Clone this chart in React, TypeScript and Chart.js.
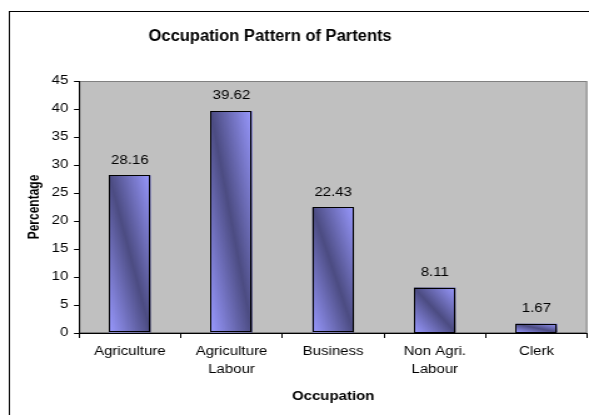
import React, { useEffect, useRef } from 'react';
import { Chart, registerables } from 'chart.js';

Chart.register(...registerables);

// ---- data ----
const categories: string[][] = [
  ['Agriculture'],
  ['Agriculture', 'Labour'],
  ['Business'],
  ['Non Agri.', 'Labour'],
  ['Clerk'],
];
const percentages: number[] = [28.16, 39.62, 22.43, 8.11, 1.67];
const yMin = 0;
const yMax = 45;
const yStep = 5;
const chartTitle = 'Occupation Pattern of Partents';
const xTitle = 'Occupation';
const yTitle = 'Percentage';

// ---- styling ----
const PAGE_W = 589;
const PAGE_H = 415;
const STRETCH = 1.25;
const CANVAS_W = Math.round(PAGE_W / STRETCH);
const FONT = '"Liberation Sans", Arial, Helvetica, sans-serif';
const LIGHT = '#9999ff';
const DARK = '#4c4c82';
const TICK_SIZE = 12;

const plotBg = {
  id: 'plotBg',
  beforeDraw(chart: any) {
    const { ctx, chartArea: a } = chart;
    ctx.save();
    ctx.fillStyle = '#c0c0c0';
    ctx.fillRect(a.left, a.top, a.right - a.left, a.bottom - a.top);
    ctx.strokeStyle = '#808080';
    ctx.lineWidth = 1;
    ctx.strokeRect(a.left + 0.5, a.top + 0.5, a.right - a.left - 1, a.bottom - a.top - 1);
    // outer chart border (right and bottom edges fall outside the picture)
    ctx.strokeStyle = '#000';
    ctx.lineWidth = 1;
    ctx.strokeRect(7.5, 11.5, chart.width + 20, chart.height + 20);
    // chart title, fitted to the reference's width
    ctx.fillStyle = '#000';
    ctx.font = `bold 16px ${FONT}`;
    ctx.textAlign = 'center';
    ctx.textBaseline = 'middle';
    const natural = ctx.measureText(chartTitle).width;
    const target = 243 / STRETCH;
    ctx.translate(270 / STRETCH, 37);
    ctx.scale(target / natural, 1);
    ctx.fillText(chartTitle, 0, 0);
    ctx.restore();
  },
};

const gradientBars = {
  id: 'gradientBars',
  afterDatasetsDraw(chart: any) {
    const { ctx } = chart;
    const meta = chart.getDatasetMeta(0);
    ctx.save();
    meta.data.forEach((el: any, i: number) => {
      const { x, y, base, width } = el.getProps(['x', 'y', 'base', 'width'], true);
      const left = x - width / 2;
      const top = Math.min(y, base);
      const bottom = Math.max(y, base);
      const w = width;
      const h = bottom - top;
      const cx = left + w / 2;
      const cy = top + h / 2;
      const k = (w * h) / (w * w + h * h);
      const dx = h * k;
      const dy = -w * k;
      const g = ctx.createLinearGradient(cx - dx, cy - dy, cx + dx, cy + dy);
      g.addColorStop(0, LIGHT);
      g.addColorStop(0.5, DARK);
      g.addColorStop(1, LIGHT);
      ctx.fillStyle = g;
      ctx.fillRect(left, top, w, h);
      ctx.strokeStyle = '#000';
      ctx.lineWidth = 1;
      ctx.strokeRect(Math.round(left) + 0.5, Math.round(top) + 0.5, Math.round(w) - 1, Math.round(h) - 1);
      ctx.fillStyle = '#000';
      ctx.font = `${TICK_SIZE}px ${FONT}`;
      ctx.textAlign = 'center';
      ctx.textBaseline = 'middle';
      ctx.fillText(percentages[i].toFixed(2), x, top - 15);
    });
    ctx.restore();
  },
};

export default function App() {
  const ref = useRef<HTMLCanvasElement | null>(null);

  useEffect(() => {
    if (!ref.current) return;
    const chart = new Chart(ref.current, {
      type: 'bar',
      data: {
        labels: categories as any,
        datasets: [
          {
            label: yTitle,
            data: percentages,
            backgroundColor: LIGHT,
            borderColor: '#000',
            borderWidth: 1,
            categoryPercentage: 1,
            barPercentage: 0.41,
          },
        ],
      },
      options: {
        responsive: false,
        devicePixelRatio: 1,
        animation: false,
        layout: { padding: { left: 0, right: CANVAS_W - 587 / STRETCH, top: 81, bottom: 0 } },
        plugins: {
          legend: { display: false },
          tooltip: { enabled: false },
          title: { display: false },
        },
        scales: {
          x: {
            grid: {
              display: true,
              drawOnChartArea: false,
              drawTicks: true,
              tickLength: 5,
              color: '#000',
              offset: true,
            },
            border: { display: true, color: '#000', width: 1 },
            ticks: {
              color: '#000',
              font: { family: FONT, size: TICK_SIZE, lineHeight: 1.5 },
              padding: 5,
              maxRotation: 0,
              minRotation: 0,
              autoSkip: false,
            },
            title: {
              display: true,
              text: xTitle,
              color: '#000',
              font: { family: FONT, size: TICK_SIZE, weight: 'bold' },
              padding: { top: 0, bottom: 11.5 },
            },
            afterFit(scale: any) {
              scale.height = PAGE_H - 333;
            },
          },
          y: {
            min: yMin,
            max: yMax,
            ticks: {
              stepSize: yStep,
              color: '#000',
              font: { family: FONT, size: TICK_SIZE },
              padding: 4.5,
            },
            grid: {
              display: true,
              drawOnChartArea: false,
              drawTicks: true,
              tickLength: 4,
              color: '#000',
            },
            border: { display: true, color: '#000', width: 1 },
            title: {
              display: true,
              text: yTitle,
              color: '#000',
              font: { family: FONT, size: TICK_SIZE, weight: 'bold' },
              padding: { top: 20.5, bottom: 0 },
            },
            afterFit(scale: any) {
              scale.width = 79 / STRETCH;
            },
          },
        },
      } as any,
      plugins: [plotBg, gradientBars],
    });
    return () => chart.destroy();
  }, []);

  return (
    <div
      style={{
        position: 'absolute',
        left: 0,
        top: 0,
        width: PAGE_W,
        height: PAGE_H,
        overflow: 'hidden',
        background: '#fff',
      }}
    >
      <canvas
        ref={ref}
        width={CANVAS_W}
        height={PAGE_H}
        style={{
          display: 'block',
          width: `${CANVAS_W}px`,
          height: `${PAGE_H}px`,
          transform: `scaleX(${PAGE_W / CANVAS_W})`,
          transformOrigin: '0 0',
        }}
      />
    </div>
  );
}
